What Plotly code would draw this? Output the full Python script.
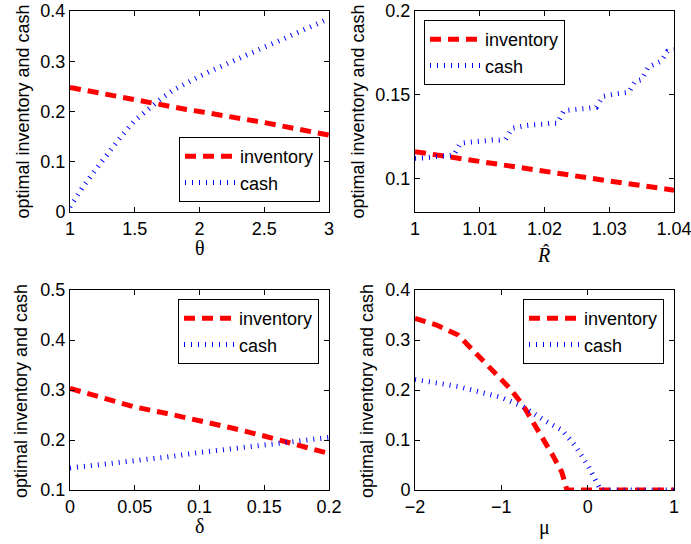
import plotly.graph_objects as go

# ---- Data ----
theta = [1.0, 1.1, 1.2, 1.3, 1.4, 1.5, 1.6, 1.7, 1.8, 1.9, 2.0, 2.1, 2.2, 2.3, 2.4, 2.5, 2.6, 2.7, 2.8, 2.9, 3.0]
theta_inventory = [0.248, 0.243, 0.237, 0.232, 0.227, 0.222, 0.217, 0.213, 0.209, 0.204, 0.200, 0.196, 0.191, 0.187, 0.182, 0.178, 0.173, 0.168, 0.163, 0.158, 0.153]
theta_cash = [0.010, 0.050, 0.085, 0.120, 0.152, 0.182, 0.205, 0.225, 0.243, 0.257, 0.270, 0.282, 0.294, 0.305, 0.317, 0.328, 0.339, 0.350, 0.361, 0.372, 0.385]

rhat = [1.000, 1.001, 1.002, 1.003, 1.004, 1.005, 1.006, 1.007, 1.008, 1.009, 1.010,
        1.011, 1.012, 1.013, 1.014, 1.015, 1.016, 1.017, 1.018, 1.019, 1.020,
        1.021, 1.022, 1.023, 1.024, 1.025, 1.026, 1.027, 1.028, 1.029, 1.030,
        1.031, 1.032, 1.033, 1.034, 1.035, 1.036, 1.037, 1.038, 1.039, 1.040]
rhat_cash = [0.1120, 0.1120, 0.1125, 0.1130, 0.1130, 0.1135, 0.1140, 0.1210, 0.1215, 0.1220, 0.1220,
             0.1225, 0.1230, 0.1230, 0.1235, 0.1300, 0.1310, 0.1315, 0.1320, 0.1320, 0.1325,
             0.1330, 0.1330, 0.1405, 0.1410, 0.1415, 0.1420, 0.1420, 0.1425, 0.1490, 0.1500,
             0.1505, 0.1510, 0.1515, 0.1580, 0.1590, 0.1665, 0.1680, 0.1700, 0.1760, 0.1770]
rhat_inv_x = [1.00, 1.01, 1.02, 1.03, 1.04]
rhat_inventory = [0.116, 0.110, 0.104, 0.0985, 0.093]

delta = [0.0, 0.025, 0.05, 0.075, 0.1, 0.125, 0.15, 0.175, 0.2]
delta_inventory = [0.303, 0.284, 0.266, 0.253, 0.239, 0.224, 0.208, 0.191, 0.173]
delta_cash = [0.144, 0.151, 0.158, 0.166, 0.175, 0.182, 0.189, 0.197, 0.205]

mu_inv_x = [-2.0, -1.75, -1.5, -1.25, -1.0, -0.9, -0.75, -0.6, -0.5, -0.4, -0.3, -0.24, 0.0, 0.5, 1.0]
mu_inventory = [0.343, 0.330, 0.310, 0.265, 0.222, 0.203, 0.170, 0.128, 0.097, 0.068, 0.036, 0.0, 0.0, 0.0, 0.0]
mu_cash_x = [-2.0, -1.75, -1.5, -1.25, -1.0, -0.75, -0.5, -0.3, -0.15, 0.0, 0.1, 0.15, 0.5, 1.0]
mu_cash = [0.221, 0.215, 0.207, 0.196, 0.185, 0.167, 0.139, 0.120, 0.090, 0.050, 0.018, 0.0, 0.0, 0.0]

# ---- Styling ----
W, H = 691, 544
RED = "rgb(255,0,0)"
BLUE = "rgb(0,0,255)"
SANS = "Liberation Sans, Arial, sans-serif"
SERIF = "Liberation Serif, Times New Roman, serif"
inv_line = dict(color=RED, width=5, dash="11px,7px")
cash_line = dict(color=BLUE, width=5, dash="1px,6px")

def px_x(p):
    return p / W

def px_y(p):
    return 1 - p / H

fig = go.Figure()

panels = [
    ("x", "y", "legend", theta, theta_inventory, theta, theta_cash),
    ("x2", "y2", "legend2", rhat_inv_x, rhat_inventory, rhat, rhat_cash),
    ("x3", "y3", "legend3", delta, delta_inventory, delta, delta_cash),
    ("x4", "y4", "legend4", mu_inv_x, mu_inventory, mu_cash_x, mu_cash),
]
for xa, ya, lg, xi, yi, xc, yc in panels:
    fig.add_trace(go.Scatter(x=xi, y=yi, mode="lines", name="inventory", line=inv_line,
                             xaxis=xa, yaxis=ya, legend=lg, hoverinfo="skip"))
    fig.add_trace(go.Scatter(x=xc, y=yc, mode="lines", name="cash", line=cash_line,
                             xaxis=xa, yaxis=ya, legend=lg, hoverinfo="skip"))

axis_style = dict(showline=True, linecolor="black", linewidth=1, mirror="ticks",
                  ticks="inside", ticklen=5, tickcolor="black", tickwidth=1,
                  showgrid=False, zeroline=False, automargin=False,
                  ticklabeloverflow="allow",
                  tickfont=dict(family=SANS, size=18, color="black"))

left_dom = [px_x(70), px_x(329)]
right_dom = [px_x(415), px_x(674)]
top_dom = [px_y(212), px_y(11)]
bot_dom = [px_y(490), px_y(290)]

fig.update_layout(
    template="none",
    xaxis=dict(domain=left_dom, anchor="y", range=[1, 3], tickvals=[1, 1.5, 2, 2.5, 3], **axis_style),
    yaxis=dict(domain=top_dom, anchor="x", range=[0, 0.4], tickvals=[0, 0.1, 0.2, 0.3, 0.4], **axis_style),
    xaxis2=dict(domain=right_dom, anchor="y2", range=[1, 1.04], tickvals=[1, 1.01, 1.02, 1.03, 1.0399999],
                ticktext=["1", "1.01", "1.02", "1.03", "1.04"], **axis_style),
    yaxis2=dict(domain=top_dom, anchor="x2", range=[0.08, 0.2], tickvals=[0.1, 0.15, 0.2], **axis_style),
    xaxis3=dict(domain=left_dom, anchor="y3", range=[0, 0.2], tickvals=[0, 0.05, 0.1, 0.15, 0.2], **axis_style),
    yaxis3=dict(domain=bot_dom, anchor="x3", range=[0.1, 0.5], tickvals=[0.1, 0.2, 0.3, 0.4, 0.5], **axis_style),
    xaxis4=dict(domain=right_dom, anchor="y4", range=[-2, 1], tickvals=[-2, -1, 0, 1], **axis_style),
    yaxis4=dict(domain=bot_dom, anchor="x4", range=[0, 0.4], tickvals=[0, 0.1, 0.2, 0.3, 0.4], **axis_style),
)

legend_style = dict(bgcolor="white", bordercolor="black", borderwidth=1,
                    font=dict(family=SANS, size=18, color="black"),
                    itemwidth=50, tracegroupgap=0)
fig.update_layout(
    legend=dict(x=px_x(320), y=px_y(202), xanchor="right", yanchor="bottom", **legend_style),
    legend2=dict(x=px_x(424), y=px_y(20), xanchor="left", yanchor="top", **legend_style),
    legend3=dict(x=px_x(319), y=px_y(299), xanchor="right", yanchor="top", **legend_style),
    legend4=dict(x=px_x(664), y=px_y(299), xanchor="right", yanchor="top", **legend_style),
)

annotations = []
ylabel = "optimal inventory and cash"
for cx, cy in [(22, 111.5), (357, 111.5), (21, 391), (367, 391)]:
    annotations.append(dict(text=ylabel, x=px_x(cx), y=px_y(cy), xref="paper", yref="paper",
                            xanchor="center", yanchor="middle", textangle=-90, showarrow=False,
                            font=dict(family=SANS, size=18, color="black")))
for txt, cx, cy in [("θ", 199.5, 248), ("<i>R</i>", 543.5, 255), ("δ", 199.5, 526), ("μ", 544.5, 527)]:
    annotations.append(dict(text=txt, x=px_x(cx), y=px_y(cy), xref="paper", yref="paper",
                            xanchor="center", yanchor="middle", showarrow=False,
                            font=dict(family=SERIF, size=20, color="black")))
# circumflex accent of R-hat
annotations.append(dict(text="ˆ", x=px_x(546), y=px_y(251), xref="paper", yref="paper",
                        xanchor="center", yanchor="middle", showarrow=False,
                        font=dict(family=SERIF, size=18, color="black")))

fig.update_layout(
    width=W, height=H, autosize=False,
    margin=dict(l=0, r=0, t=0, b=0, pad=0),
    paper_bgcolor="white", plot_bgcolor="white",
    font=dict(family=SANS, size=18, color="black"),
    annotations=annotations,
)

fig.write_html("out.html", config={"displayModeBar": False},
               post_script="document.body.style.margin='0';document.body.style.padding='0';")
